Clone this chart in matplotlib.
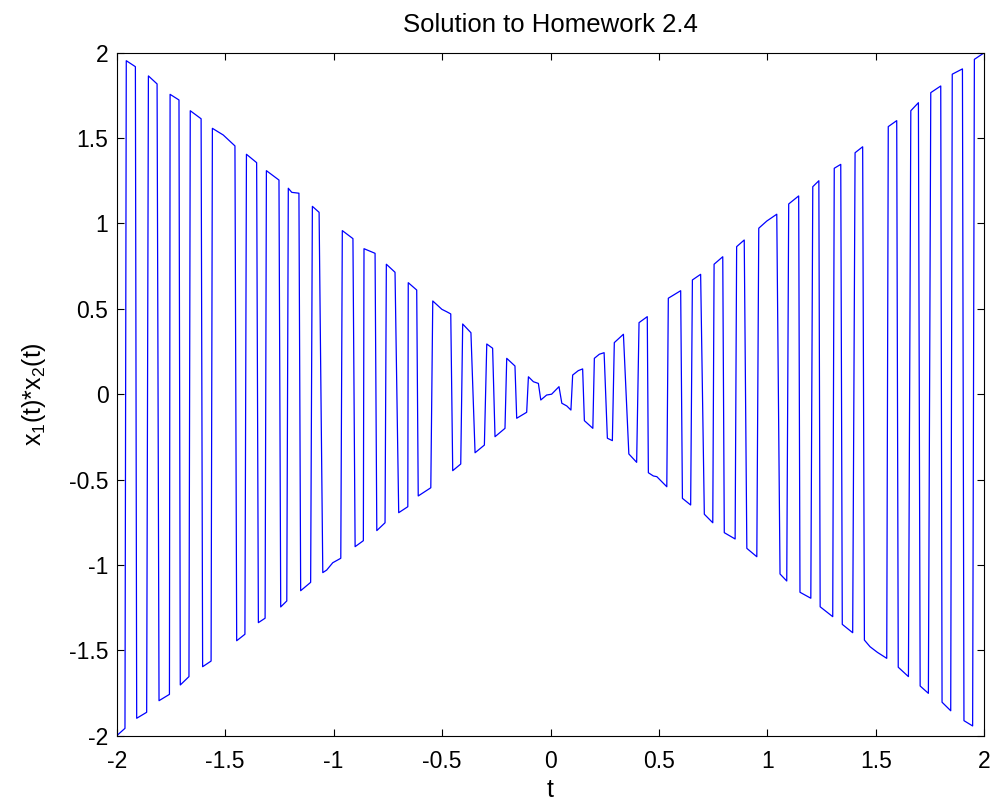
import numpy as np
import matplotlib.pyplot as plt
from matplotlib.ticker import FuncFormatter

plt.rcParams['font.family'] = ['Liberation Sans', 'DejaVu Sans']
plt.rcParams['mathtext.fontset'] = 'custom'
plt.rcParams['mathtext.rm'] = 'Liberation Sans'
plt.rcParams['mathtext.default'] = 'regular'
plt.rcParams['axes.unicode_minus'] = False

# valores: t < -0.7
t_esq = [-2.000, -1.962, -1.956, -1.914, -1.908, -1.862, -1.854, -1.814,
         -1.805, -1.757, -1.754, -1.713, -1.707, -1.667, -1.661, -1.611,
         -1.604, -1.565, -1.559, -1.509, -1.455, -1.447, -1.409, -1.402,
         -1.355, -1.347, -1.316, -1.310, -1.252, -1.244, -1.216, -1.209,
         -1.193, -1.160, -1.152, -1.106, -1.098, -1.067, -1.050, -1.032,
         -1.004, -0.967, -0.960, -0.911, -0.901, -0.863, -0.860, -0.809,
         -0.801, -0.763, -0.757, -0.717]
y_esq = [-2.000, -1.957, 1.953, 1.918, -1.898, -1.863, 1.864, 1.817,
         -1.795, -1.758, 1.756, 1.723, -1.703, -1.654, 1.660, 1.613,
         -1.596, -1.563, 1.557, 1.518, 1.454, -1.444, -1.406, 1.405,
         1.356, -1.338, -1.312, 1.309, 1.254, -1.246, -1.211, 1.206,
         1.182, 1.177, -1.151, -1.102, 1.100, 1.065, -1.045, -1.030,
         -0.987, -0.961, 0.958, 0.911, -0.893, -0.858, 0.852, 0.825,
         -0.799, -0.753, 0.761, 0.714]

# zona central
t_meio = [-0.700, -0.658, -0.656, -0.617, -0.610, -0.552, -0.543, -0.501,
          -0.479, -0.460, -0.451, -0.414, -0.405, -0.367, -0.348, -0.305,
          -0.294, -0.267, -0.256, -0.210, -0.202, -0.164, -0.156, -0.110,
          -0.102, -0.079, -0.056, -0.045, -0.018, 0.005, 0.039, 0.052,
          0.075, 0.094, 0.102, 0.128, 0.148, 0.156, 0.195, 0.202,
          0.225, 0.247, 0.262, 0.285, 0.294, 0.336, 0.361, 0.397,
          0.408, 0.446]
y_meio = [-0.694, -0.659, 0.653, 0.610, -0.596, -0.548, 0.546, 0.497,
          0.483, 0.470, -0.448, -0.409, 0.411, 0.360, -0.343, -0.298,
          0.294, 0.269, -0.249, -0.200, 0.210, 0.165, -0.141, -0.106,
          0.102, 0.073, 0.063, -0.034, -0.005, 0.000, 0.044, -0.053,
          -0.069, -0.093, 0.112, 0.138, 0.148, -0.155, -0.200, 0.210,
          0.234, 0.243, -0.258, -0.272, 0.302, 0.351, -0.350, -0.399,
          0.419, 0.454]

# t > 0.45
t_dir = [0.451, 0.474, 0.490, 0.536, 0.543, 0.600, 0.608, 0.646,
         0.654, 0.692, 0.709, 0.748, 0.754, 0.794, 0.801, 0.851,
         0.858, 0.893, 0.905, 0.951, 0.960, 0.997, 1.043, 1.058,
         1.089, 1.098, 1.144, 1.150, 1.200, 1.209, 1.237, 1.243,
         1.301, 1.308, 1.338, 1.345, 1.393, 1.404, 1.439, 1.447,
         1.473, 1.507, 1.550, 1.557, 1.596, 1.603, 1.650, 1.661,
         1.696, 1.704, 1.742, 1.753, 1.799, 1.805, 1.845, 1.852,
         1.899, 1.906, 1.946, 1.954, 2.000]
y_dir = [-0.460, -0.479, -0.483, -0.542, 0.562, 0.606, -0.610, -0.649,
         0.669, 0.702, -0.703, -0.753, 0.761, 0.805, -0.811, -0.848,
         0.864, 0.903, -0.903, -0.952, 0.972, 1.014, 1.054, -1.053,
         -1.094, 1.114, 1.161, -1.160, -1.195, 1.215, 1.250, -1.245,
         -1.303, 1.323, 1.346, -1.348, -1.397, 1.414, 1.449, -1.440,
         -1.479, -1.512, -1.547, 1.567, 1.602, -1.599, -1.654, 1.660,
         1.707, -1.709, -1.752, 1.766, 1.805, -1.804, -1.854, 1.874,
         1.905, -1.912, -1.943, 1.961, 2.000]

t = np.array(t_esq + t_meio + t_dir)
x = np.array(y_esq + y_meio + y_dir)

fig = plt.figure(figsize=(9.96, 8.08), dpi=100)
ax = fig.add_axes([0.1172, 0.0895, 0.8711, 0.8453])
ax.plot(t, x, color='blue', lw=0.9)

ax.set_xlim(-2, 2)
ax.set_ylim(-2, 2)
ax.set_xticks(np.arange(-2, 2.01, 0.5))
ax.set_yticks(np.arange(-2, 2.01, 0.5))
fmt = FuncFormatter(lambda v, p: '%g' % v)
ax.xaxis.set_major_formatter(fmt)
ax.yaxis.set_major_formatter(fmt)
ax.tick_params(direction='in', length=5, width=0.8, top=True, right=True,
               labelsize=16.5)
ax.tick_params(axis='x', pad=10)
ax.tick_params(axis='y', pad=6)
for s in ax.spines.values():
    s.set_linewidth(0.8)

ax.set_title('Solution to Homework 2.4', fontsize=18.5, pad=15)
ax.set_xlabel('t', fontsize=18, labelpad=4)
ax.set_ylabel(r'x$_1$(t)*x$_2$(t)', fontsize=18, labelpad=15)

fig.savefig('out.png', dpi=100)
